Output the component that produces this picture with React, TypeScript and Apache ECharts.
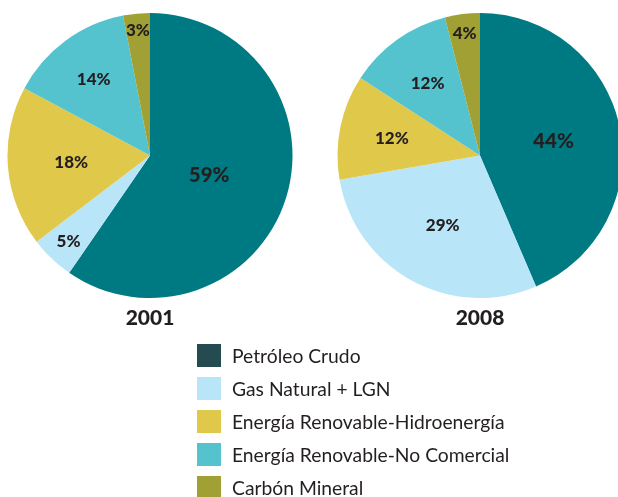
import React, { useEffect, useRef } from "react";
import * as echarts from "echarts";

const YEARS = ["2001", "2008"];
const CATEGORIES = [
  "Petróleo Crudo",
  "Gas Natural + LGN",
  "Energía Renovable-Hidroenergía",
  "Energía Renovable-No Comercial",
  "Carbón Mineral",
];
const VALUES_2001 = [59, 5, 18, 14, 3];
const VALUES_2008 = [44, 29, 12, 12, 4];

// styles
const SLICE_COLORS = ["#007a82", "#b9e5f8", "#e0c84a", "#55c3cd", "#a0a035"];
const LEGEND_COLORS = ["#244b50", "#b9e5f8", "#e0c84a", "#55c3cd", "#a0a035"];
const LABEL_RADII = [
  [62, 118, 79, 95, 127],
  [75, 78, 90, 90, 124],
];
const LABEL_SIZES = [20.5, 17, 17, 17, 17];
const CENTERS = [
  [150, 155.5],
  [480, 155.5],
];
const RADIUS = 142.5;
const FONT = "Lato, 'Open Sans', sans-serif";
const TEXT_COLOR = "#231f20";

export default function App() {
  const ref = useRef<HTMLDivElement>(null);
  useEffect(() => {
    if (!ref.current) return;
    const chart = echarts.init(ref.current, null, { renderer: "svg" });
    const allValues = [VALUES_2001, VALUES_2008];
    const series: any[] = [];
    allValues.forEach((vals, y) => {
      series.push({
        type: "pie",
        name: YEARS[y],
        center: CENTERS[y],
        radius: RADIUS,
        startAngle: 90,
        clockwise: true,
        silent: true,
        avoidLabelOverlap: false,
        itemStyle: { borderWidth: 0 },
        label: { show: false },
        labelLine: { show: false },
        data: CATEGORIES.map((n, i) => ({
          name: n,
          value: vals[i],
          itemStyle: { color: SLICE_COLORS[i] },
        })),
      });
      CATEGORIES.forEach((_, k) => {
        series.push({
          type: "pie",
          name: YEARS[y] + "-label-" + k,
          center: CENTERS[y],
          radius: [0, 2 * (LABEL_RADII[y][k] - 3)],
          startAngle: 90,
          clockwise: true,
          silent: true,
          z: 5,
          avoidLabelOverlap: false,
          itemStyle: { borderWidth: 0, color: "rgba(0,0,0,0)" },
          label: { show: false },
          labelLine: { show: false },
          data: CATEGORIES.map((n, i) => ({
            name: n,
            value: vals[i],
            itemStyle: { color: "rgba(0,0,0,0)" },
            label: {
              show: i === k,
              position: "inside",
              formatter: "{c}%",
              fontFamily: FONT,
              fontWeight: 900,
              fontSize: LABEL_SIZES[k],
              color: TEXT_COLOR,
            },
          })),
        });
      });
    });

    chart.setOption({
      animation: false,
      legend: {
        orient: "vertical",
        left: 197,
        top: 344,
        height: 200,
        padding: 0,
        icon: "rect",
        itemWidth: 24,
        itemHeight: 23,
        itemGap: 10,
        selectedMode: false,
        textStyle: {
          fontFamily: FONT,
          fontSize: 19.3,
          color: TEXT_COLOR,
          padding: [0, 0, 0, 6],
        },
        itemStyle: { borderWidth: 0 },
        data: CATEGORIES.map((n, i) => ({
          name: n,
          itemStyle: { color: LEGEND_COLORS[i], borderWidth: 0 },
        })),
      },
      graphic: YEARS.map((yr, y) => ({
        type: "text",
        x: CENTERS[y][0],
        y: 316,
        style: {
          text: yr,
          fontFamily: FONT,
          fontWeight: 900,
          fontSize: 21,
          fill: TEXT_COLOR,
          textAlign: "center",
          textVerticalAlign: "middle",
        },
      })),
      series,
    });
    return () => chart.dispose();
  }, []);
  return (
    <div
      ref={ref}
      style={{ position: "fixed", left: 0, top: 0, width: 618, height: 497 }}
    />
  );
}
